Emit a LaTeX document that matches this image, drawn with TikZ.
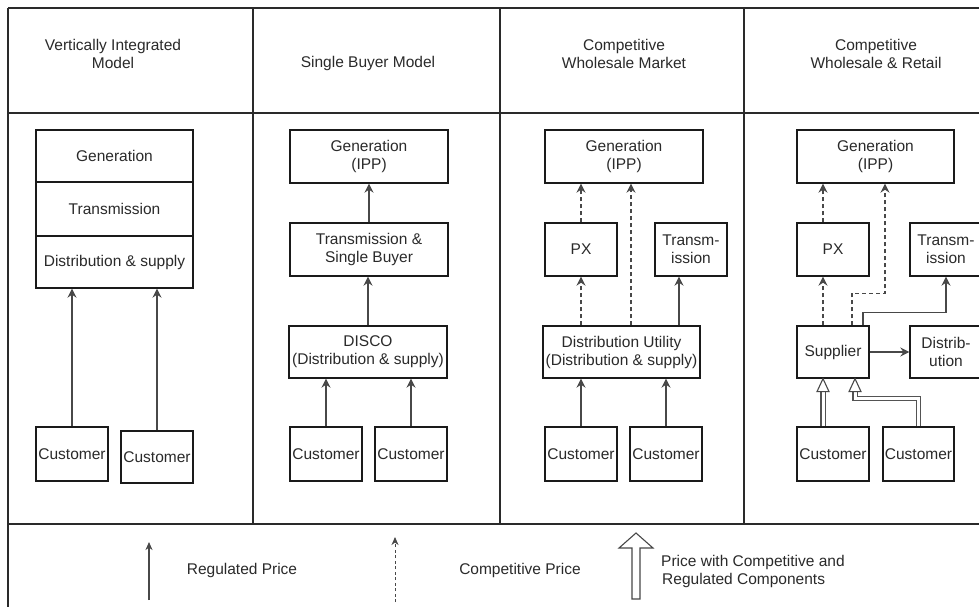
\documentclass[tikz,border=0pt]{standalone}
\usepackage{fontspec}
\setmainfont{Liberation Sans}
\usetikzlibrary{arrows.meta,calc}
\definecolor{txt}{HTML}{2A2A2A}
\definecolor{ln}{HTML}{1A1A1A}
\definecolor{fr}{HTML}{2A2A2A}
\tikzset{
  box/.style={draw=ln, line width=1.3pt, fill=white, inner sep=0pt, align=center,
    text=txt, font=\fontsize{15.5}{18}\selectfont},
  lbl/.style={inner sep=0pt, align=center, text=txt, font=\fontsize{15.5}{18}\selectfont},
  frame/.style={draw=fr, line width=1.2pt},
  thick frame/.style={draw=fr, line width=2pt},
  reg/.style={draw=ln!80!white, line width=1.6pt, -{Stealth[length=9pt,width=9pt,inset=3pt]}},
  comp/.style={draw=ln!80!white, line width=1.5pt, dash pattern=on 4pt off 3pt,
    -{Stealth[length=9pt,width=9pt,inset=3pt]}},
  legreg/.style={draw=ln!80!white, line width=1.2pt, -{Stealth[length=8pt,width=7pt,inset=2.5pt]}},
  legcomp/.style={draw=ln!80!white, line width=1pt, dash pattern=on 3pt off 2.5pt,
    -{Stealth[length=8pt,width=7pt,inset=2.5pt]}},
  mixshaft/.style={draw=ln!75!white, line width=1.1pt, double=white, double distance=3pt, shorten >=12pt},
  mixhead/.style={draw=ln!80!white, line width=1.1pt, fill=white, line join=miter},
}
\begin{document}
\begin{tikzpicture}[x=1pt,y=-1pt]
\useasboundingbox (0,0) rectangle (979,606);
\fill[white] (0,0) rectangle (979,606);

% frame
\draw[frame] (8,8) -- (995,8);
\draw[frame] (8,8) -- (8,615);
\draw[thick frame] (8,113) -- (995,113);
\draw[thick frame] (8,524) -- (995,524);
\draw[frame] (253,8) -- (253,524);
\draw[frame] (500,8) -- (500,524);
\draw[frame] (744,8) -- (744,524);

% titles
\node[lbl] (t1) at (113,54) {Vertically Integrated\\Model};
\node[lbl] (t2) at (368,63) {Single Buyer Model};
\node[lbl] (t3) at (624,54) {Competitive\\Wholesale Market};
\node[lbl] (t4) at (876,54) {Competitive\\Wholesale \& Retail};

% column 1
\node[box, minimum width=157pt, minimum height=52pt] (gen1) at (114.5,156) {Generation};
\node[box, minimum width=157pt, minimum height=54pt] (tr1) at (114.5,209) {Transmission};
\node[box, minimum width=157pt, minimum height=52pt] (ds1) at (114.5,262) {Distribution \& supply};
\node[box, minimum width=72pt, minimum height=54pt] (c1a) at (72,454) {Customer};
\node[box, minimum width=72pt, minimum height=52pt] (c1b) at (157,457) {Customer};
\draw[reg] (c1a.north) -- (c1a.north |- ds1.south);
\draw[reg] (c1b.north) -- (c1b.north |- ds1.south);

% column 2
\node[box, minimum width=158pt, minimum height=53pt] (gen2) at (369,156.5) {Generation\\(IPP)};
\node[box, minimum width=158pt, minimum height=53pt] (tr2) at (369,249.5) {Transmission \&\\Single Buyer};
\node[box, minimum width=158pt, minimum height=52pt] (dis2) at (368,352) {DISCO\\(Distribution \& supply)};
\node[box, minimum width=72pt, minimum height=54pt] (c2a) at (326,454) {Customer};
\node[box, minimum width=72pt, minimum height=54pt] (c2b) at (411,454) {Customer};
\draw[reg] (tr2.north) -- (tr2.north |- gen2.south);
\draw[reg] (dis2.north) -- (dis2.north |- tr2.south);
\draw[reg] (c2a.north) -- (c2a.north |- dis2.south);
\draw[reg] (c2b.north) -- (c2b.north |- dis2.south);

% column 3
\node[box, minimum width=158pt, minimum height=53pt] (gen3) at (624,156.5) {Generation\\(IPP)};
\node[box, minimum width=72pt, minimum height=53pt] (px3) at (581,249.5) {PX};
\node[box, minimum width=72pt, minimum height=53pt] (tr3) at (691,249.5) {Transm-\\ission};
\node[box, minimum width=157pt, minimum height=52pt] (du3) at (621.5,352) {Distribution Utility\\(Distribution \& supply)};
\node[box, minimum width=72pt, minimum height=54pt] (c3a) at (581,454) {Customer};
\node[box, minimum width=72pt, minimum height=54pt] (c3b) at (666,454) {Customer};
\draw[comp] (px3.north) -- (px3.north |- gen3.south);
\draw[comp] (px3.north |- du3.north) -- (px3.south);
\draw[comp] ($(du3.north)+(9.5,0)$) -- ($(gen3.south)+(7,0)$);
\draw[reg] ($(tr3.south |- du3.north)+(-12,0)$) -- ($(tr3.south)+(-12,0)$);
\draw[reg] (c3a.north) -- (c3a.north |- du3.south);
\draw[reg] (c3b.north) -- (c3b.north |- du3.south);

% column 4
\node[box, minimum width=157pt, minimum height=53pt] (gen4) at (875.5,156.5) {Generation\\(IPP)};
\node[box, minimum width=72pt, minimum height=53pt] (px4) at (833,249.5) {PX};
\node[box, minimum width=72pt, minimum height=53pt] (tr4) at (946,249.5) {Transm-\\ission};
\node[box, minimum width=72pt, minimum height=52pt] (sup4) at (833,352) {Supplier};
\node[box, minimum width=72pt, minimum height=52pt] (dis4) at (946,352) {Distrib-\\ution};
\node[box, minimum width=72pt, minimum height=54pt] (c4a) at (833,454) {Customer};
\node[box, minimum width=71pt, minimum height=54pt] (c4b) at (918.5,454) {Customer};
\draw[comp] ($(px4.north)+(-10,0)$) -- ($(gen4.south -| px4.north)+(-10,0)$);
\draw[comp] ($(sup4.north)+(-10,0)$) -- ($(px4.south)+(-10,0)$);
\draw[comp] ($(sup4.north)+(19,0)$) -- ++(0,-32) -| ($(gen4.south)+(9.5,0)$);
\draw[reg] ($(sup4.north)+(30,0)$) -- ++(0,-13) -| (tr4.south);
\draw[reg] (sup4.east) -- (dis4.west);
% mixed price arrows
\draw[mixshaft] ($(c4a.north)+(-10,0)$) -- ($(sup4.south)+(-10,0)$);
\draw[mixhead] ($(sup4.south)+(-10,0)$) -- ++(-6,13) -- ++(12,0) -- cycle;
\draw[mixshaft] (c4b.north) -- ++(0,-28) -| ($(sup4.south)+(22,0)$);
\draw[mixhead] ($(sup4.south)+(22,0)$) -- ++(-6,13) -- ++(12,0) -- cycle;

% legend
\coordinate (l1b) at (149,600);
\coordinate (l1t) at (149,542);
\draw[legreg] (l1b) -- (l1t);
\node[lbl] (lg1) at (242,570) {Regulated Price};
\coordinate (l2b) at (395,602);
\coordinate (l2t) at (395,537);
\draw[legcomp] (l2b) -- (l2t);
\node[lbl] (lg2) at (520,570) {Competitive Price};
\draw[mixhead] (636,533) -- (653,548) -- (640,548) -- (640,599) -- (632,599) -- (632,548) -- (619,548) -- cycle;
\node[lbl, align=left, anchor=west] (lg3) at (661,571) {Price with Competitive and\\\hspace{1pt}Regulated Components};
\end{tikzpicture}
\end{document}
